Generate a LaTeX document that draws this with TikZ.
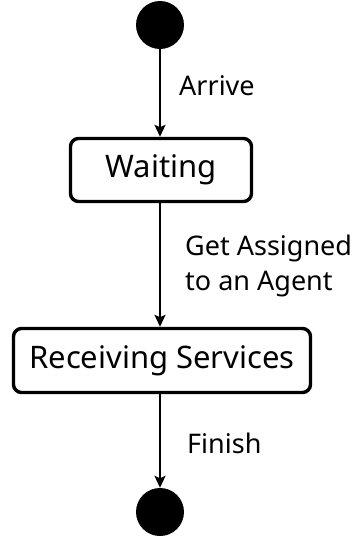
\documentclass[tikz,border=0pt]{standalone}
\usepackage{fontspec}
\setmainfont{Noto Sans}
\usetikzlibrary{arrows.meta}
\begin{document}
\begin{tikzpicture}[x=1pt,y=-1pt,
  pseudo/.style={circle,fill=black,draw=none,minimum size=48pt,inner sep=0pt},
  state/.style={draw=black,line width=3.4pt,rounded corners=8pt,inner sep=0pt,font=\fontsize{31}{36}\selectfont},
  trans/.style={line width=2.2pt,-{Stealth[length=12pt,width=11pt,inset=2.5pt]}},
  lbl/.style={font=\fontsize{27}{35}\selectfont,inner sep=0pt,anchor=base west,align=left}]
  \useasboundingbox (0,0) rectangle (354,539);
  % initial and final pseudo-states
  \node[pseudo] (start) at (160,25) {};
  \node[pseudo] (final) at (160,512) {};
  % states
  \node[state,minimum width=181pt,minimum height=63pt] (wait) at (161,170) {Waiting};
  \node[state,minimum width=297pt,minimum height=64pt] (recv) at (162,360.5) {Receiving Services};
  % transitions
  \draw[trans] (start) -- (start |- wait.north);
  \draw[trans] (start |- wait.south) -- (start |- recv.north);
  \draw[trans] (start |- recv.south) -- (final);
  % transition labels (base anchor of a two-line node sits on its last line)
  \node[lbl] (arrive) at (179,95) {Arrive};
  \node[lbl] (assign) at (185,290) {Get Assigned\\to an Agent};
  \node[lbl] (finish) at (187,453) {Finish};
\end{tikzpicture}
\end{document}
